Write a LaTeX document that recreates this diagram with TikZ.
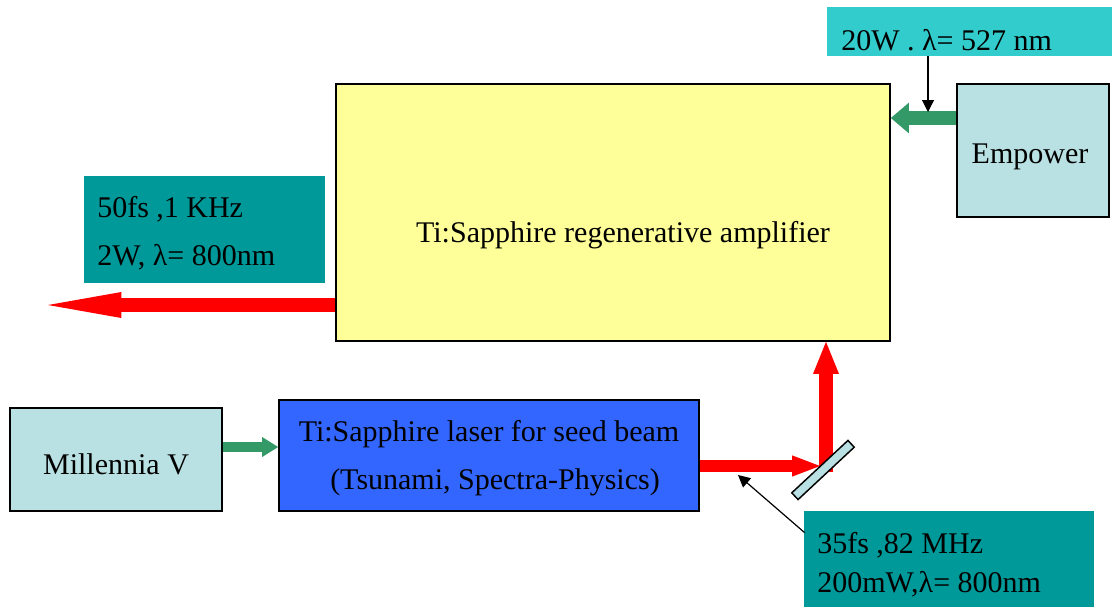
\documentclass[tikz,border=0pt]{standalone}
\usepackage{fontspec}
\setmainfont{Liberation Serif}
\usetikzlibrary{arrows.meta,calc}
\definecolor{cyel}{HTML}{FFFF99}
\definecolor{clblue}{HTML}{B9E0E3}
\definecolor{cteal}{HTML}{009999}
\definecolor{ccyan}{HTML}{33CCCC}
\definecolor{cblue}{HTML}{3366FF}
\definecolor{cgreen}{HTML}{339966}
\definecolor{cred}{HTML}{FF0000}
\begin{document}
\begin{tikzpicture}[x=0.75pt,y=-0.75pt,
  box/.style={draw=black, line width=1.3pt, inner sep=0pt},
  tag/.style={inner sep=0pt, draw=none},
  txt/.style={font=\fontsize{22.5}{27}\selectfont, inner sep=0pt, text=black},
  redbeam/.style={draw=cred, line width=#1},
  greenbeam/.style={draw=cgreen, line width=#1},
  pointer/.style={draw=black, line width=0.9pt, -{Triangle[length=9pt,width=9pt]}}
]
\useasboundingbox (0,0) rectangle (1112,607);

% boxes
\node[box, fill=cyel, minimum width=415.5pt, minimum height=192.75pt] (amp) at (613,212.5) {};
\node[box, fill=clblue, minimum width=114pt, minimum height=99.75pt] (emp) at (1033,150.5) {};
\node[tag, fill=ccyan, minimum width=213.75pt, minimum height=36.75pt] (top) at (969.5,31.5) {};
\node[tag, fill=cteal, minimum width=180.75pt, minimum height=80.25pt] (outlab) at (204.5,229.5) {};
\node[box, fill=clblue, minimum width=159pt, minimum height=77.25pt] (mil) at (116,459.5) {};
\node[box, fill=cblue, minimum width=315pt, minimum height=83.25pt] (seed) at (489,455.5) {};
\node[tag, fill=cteal, minimum width=217.5pt, minimum height=72pt] (seedlab) at (949,559) {};

% texts
\node[txt, anchor=base] (ampt) at (623,242) {Ti:Sapphire regenerative amplifier};
\node[txt, anchor=base] (empt) at (1030,163) {Empower};
\node[txt, anchor=base] (milt) at (116,474) {Millennia V};
\node[txt, anchor=base] (seedt1) at (489,441) {Ti:Sapphire laser for seed beam};
\node[txt, anchor=base] (seedt2) at (495,489) {(Tsunami, Spectra-Physics)};
\node[txt, anchor=base west] (topt) at (841,50) {20W . λ= 527 nm};
\node[txt, anchor=base west] (outt1) at (97,217) {50fs ,1 KHz};
\node[txt, anchor=base west] (outt2) at (97,265) {2W, λ= 800nm};
\node[txt, anchor=base west] (seedlt1) at (817,553) {35fs ,82 MHz};
\node[txt, anchor=base west] (seedlt2) at (817,592) {200mW,λ= 800nm};

% coordinates
\coordinate (outend) at (48,305);
\coordinate (hit) at (820,466);
\coordinate (bend) at (826,472);
\coordinate (pumpy) at (0,118);
\coordinate (milly) at (0,447);
\coordinate (seedptr) at (738,475);
\coordinate (pumpx) at (928,0);
\coordinate (pumptip) at (928,112);

% beams
\draw[redbeam=10.5pt, -{Triangle[length=55pt,width=19.5pt,line width=0pt]}] (amp.west |- outend) -- (outend);
\draw[redbeam=9pt, -{Triangle[length=21pt,width=16pt,line width=0pt]}] (seed.east |- hit) -- (hit);
\draw[redbeam=10.5pt, -{Triangle[length=24pt,width=19.5pt,line width=0pt]}] (bend) -- (bend |- amp.south);
\draw[greenbeam=11pt, -{Triangle[length=13.5pt,width=23pt,line width=0pt]}] (emp.west |- pumpy) -- (amp.east |- pumpy);
\draw[greenbeam=8pt, -{Triangle[length=12pt,width=15pt,line width=0pt]}] (mil.east |- milly) -- (seed.west |- milly);

% mirror
\node[box, line width=1.1pt, fill=clblue, minimum width=57.6pt, minimum height=6.9pt, rotate=43] (mirror) at (823,470) {};

% pointers
\draw[pointer] (pumpx |- top.south) -- (pumptip);
\draw[pointer] ($(seedlab.north west)+(1,22)$) -- (seedptr);
\end{tikzpicture}
\end{document}
